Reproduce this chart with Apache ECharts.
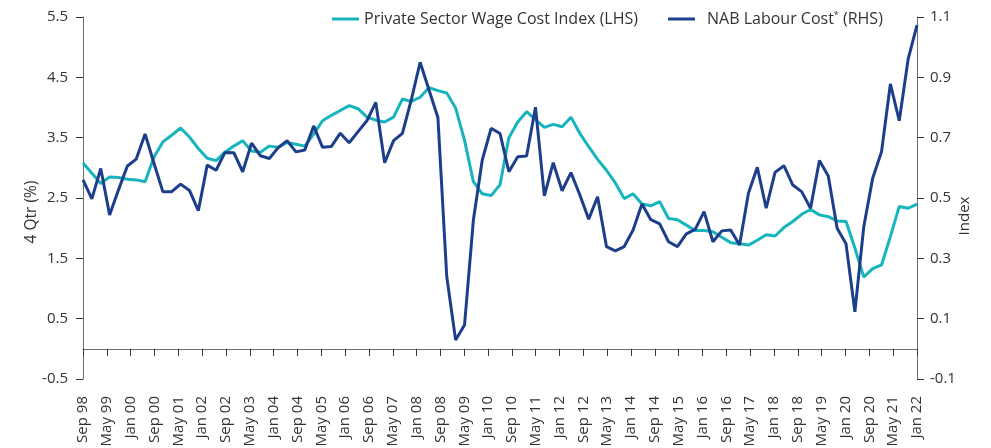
<!DOCTYPE html>
<html>
<head>
<meta charset="utf-8">
<script src="https://cdn.jsdelivr.net/npm/echarts@6/dist/echarts.min.js"></script>
<style>
html,body{margin:0;padding:0;background:#fff;}
#chart{width:991px;height:448px;}
</style>
</head>
<body>
<div id="chart"></div>
<script>
// Visible axis tick labels (every 8 months)
var tickLabels = ['Sep 98','May 99','Jan 00','Sep 00','May 01','Jan 02','Sep 02','May 03','Jan 04','Sep 04','May 05','Jan 06','Sep 06','May 07','Jan 08','Sep 08','May 09','Jan 10','Sep 10','May 11','Jan 12','Sep 12','May 13','Jan 14','Sep 14','May 15','Jan 16','Sep 16','May 17','Jan 18','Sep 18','May 19','Jan 20','Sep 20','May 21','Jan 22'];

// Quarterly observation categories
var quarters = ['Sep 98','Dec 98','Mar 99','Jun 99','Sep 99','Dec 99','Mar 00','Jun 00','Sep 00','Dec 00','Mar 01','Jun 01','Sep 01','Dec 01','Mar 02','Jun 02','Sep 02','Dec 02','Mar 03','Jun 03','Sep 03','Dec 03','Mar 04','Jun 04','Sep 04','Dec 04','Mar 05','Jun 05','Sep 05','Dec 05','Mar 06','Jun 06','Sep 06','Dec 06','Mar 07','Jun 07','Sep 07','Dec 07','Mar 08','Jun 08','Sep 08','Dec 08','Mar 09','Jun 09','Sep 09','Dec 09','Mar 10','Jun 10','Sep 10','Dec 10','Mar 11','Jun 11','Sep 11','Dec 11','Mar 12','Jun 12','Sep 12','Dec 12','Mar 13','Jun 13','Sep 13','Dec 13','Mar 14','Jun 14','Sep 14','Dec 14','Mar 15','Jun 15','Sep 15','Dec 15','Mar 16','Jun 16','Sep 16','Dec 16','Mar 17','Jun 17','Sep 17','Dec 17','Mar 18','Jun 18','Sep 18','Dec 18','Mar 19','Jun 19','Sep 19','Dec 19','Mar 20','Jun 20','Sep 20','Dec 20','Mar 21','Jun 21','Sep 21','Dec 21','Mar 22'];

// Private Sector Wage Cost Index, 4 Qtr % (LHS)
var wageCostIndex = [3.08,2.91,2.74,2.85,2.84,2.81,2.80,2.77,3.18,3.43,3.54,3.66,3.51,3.32,3.16,3.12,3.26,3.36,3.45,3.28,3.26,3.36,3.34,3.42,3.39,3.36,3.56,3.78,3.87,3.95,4.03,3.98,3.84,3.79,3.76,3.84,4.14,4.10,4.17,4.33,4.28,4.24,3.99,3.46,2.77,2.57,2.54,2.72,3.50,3.76,3.93,3.80,3.67,3.72,3.68,3.84,3.57,3.35,3.14,2.96,2.75,2.49,2.57,2.40,2.37,2.44,2.16,2.14,2.05,1.96,1.96,1.94,1.85,1.76,1.74,1.72,1.80,1.89,1.87,2.01,2.11,2.23,2.31,2.22,2.19,2.12,2.11,1.67,1.19,1.33,1.39,1.86,2.36,2.33,2.40];

// NAB Labour Cost index (RHS)
var nabLabourCost = [0.560,0.497,0.598,0.444,0.527,0.606,0.629,0.712,0.615,0.521,0.521,0.546,0.525,0.458,0.609,0.592,0.651,0.650,0.587,0.682,0.640,0.631,0.667,0.690,0.653,0.659,0.739,0.668,0.671,0.715,0.683,0.720,0.756,0.817,0.617,0.690,0.714,0.825,0.950,0.858,0.767,0.239,0.029,0.079,0.427,0.626,0.731,0.714,0.587,0.637,0.639,0.801,0.507,0.617,0.524,0.584,0.510,0.430,0.504,0.339,0.325,0.339,0.394,0.480,0.428,0.414,0.355,0.339,0.381,0.396,0.455,0.355,0.391,0.394,0.344,0.516,0.602,0.466,0.585,0.607,0.543,0.521,0.466,0.624,0.573,0.400,0.348,0.123,0.405,0.565,0.653,0.878,0.756,0.960,1.073];

var seriesNames = ['Private Sector Wage Cost Index (LHS)', 'NAB Labour Cost* (RHS)'];
var leftTicks = {min: -0.5, max: 5.5, interval: 1};
var rightTicks = {min: -0.1, max: 1.1, interval: 0.2};

var FONT = 'Open Sans';
var TXT = '#333333';
var AXIS = '#6e6e6e';
var TEAL = '#16B4BD';
var NAVY = '#1D3F8B';

var legendBase = {
  top: 11,
  padding: 0,
  icon: 'rect',
  itemWidth: 27,
  itemHeight: 3,
  textStyle: {fontFamily: FONT, fontSize: 16, color: TXT,
    rich: {
      sup: {fontSize: 9, verticalAlign: 'top', padding: [0, 0, 7, 0], fontFamily: FONT, color: TXT},
      gap: {width: 7}
    }}
};

var chart = echarts.init(document.getElementById('chart'), null, {renderer: 'canvas'});
chart.setOption({
  animation: false,
  backgroundColor: '#ffffff',
  textStyle: {fontFamily: FONT, color: TXT},
  legend: [
    Object.assign({}, legendBase, {left: 332, data: [seriesNames[0]]}),
    Object.assign({}, legendBase, {left: 668, data: [seriesNames[1]],
      formatter: function () { return '{gap|}NAB Labour Cost{sup|*} (RHS)'; }})
  ],
  grid: {left: 83, right: 74, top: 17, bottom: 69, containLabel: false, outerBoundsMode: 'none'},
  xAxis: [{
    type: 'category',
    data: tickLabels,
    boundaryGap: false,
    axisLine: {onZero: true, lineStyle: {color: AXIS, width: 1}},
    axisTick: {show: true, length: 7, interval: 0, lineStyle: {color: '#333'}},
    axisLabel: {interval: 0, rotate: 90, margin: 17, fontFamily: FONT, fontSize: 15, color: TXT},
    splitLine: {show: false}
  }, {
    type: 'category',
    data: quarters,
    boundaryGap: false,
    show: false
  }],
  yAxis: [{
    type: 'value',
    min: leftTicks.min, max: leftTicks.max, interval: leftTicks.interval,
    name: '4 Qtr (%)',
    nameLocation: 'middle',
    nameGap: 43.5,
    nameRotate: 90,
    nameMoveOverlap: false,
    nameTextStyle: {fontFamily: FONT, fontSize: 15.5, color: TXT, padding: [0, 28, 0, 0]},
    axisLine: {show: true, lineStyle: {color: AXIS}},
    axisTick: {show: true, length: 7, lineStyle: {color: '#333'}},
    axisLabel: {margin: 15, fontFamily: FONT, fontSize: 15, color: TXT, formatter: function (v) { return v.toFixed(1); }},
    splitLine: {show: false}
  }, {
    type: 'value',
    position: 'right',
    min: rightTicks.min, max: rightTicks.max, interval: rightTicks.interval,
    name: 'Index',
    nameLocation: 'middle',
    nameGap: 40,
    nameRotate: 90,
    nameMoveOverlap: false,
    nameTextStyle: {fontFamily: FONT, fontSize: 15, color: TXT, padding: [0, 36, 0, 0]},
    axisLine: {show: true, onZero: false, lineStyle: {color: AXIS}},
    axisTick: {show: true, length: 7, lineStyle: {color: '#333'}},
    axisLabel: {margin: 13, fontFamily: FONT, fontSize: 15, color: TXT, formatter: function (v) { return (Math.round(v * 10) / 10).toFixed(1); }},
    splitLine: {show: false}
  }],
  series: [{
    name: seriesNames[0],
    type: 'line',
    xAxisIndex: 1,
    yAxisIndex: 0,
    data: wageCostIndex,
    symbol: 'none',
    lineStyle: {color: TEAL, width: 3},
    itemStyle: {color: TEAL},
    z: 2
  }, {
    name: seriesNames[1],
    type: 'line',
    xAxisIndex: 1,
    yAxisIndex: 1,
    data: nabLabourCost,
    symbol: 'none',
    lineStyle: {color: NAVY, width: 3},
    itemStyle: {color: NAVY},
    z: 3
  }]
});
</script>
</body>
</html>
